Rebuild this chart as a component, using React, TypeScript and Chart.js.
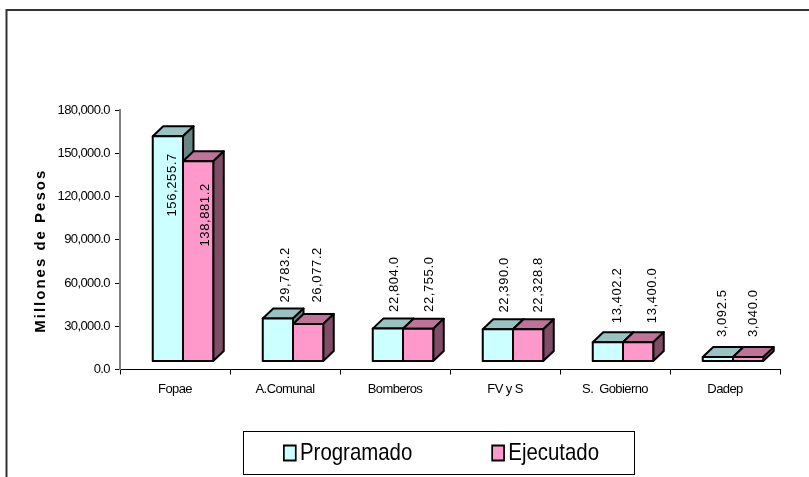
import React, { useEffect, useRef } from "react";
import { Chart, registerables } from "chart.js";

Chart.register(...registerables);

const categories = ["Fopae", "A.Comunal", "Bomberos", "FV y S", "S.  Gobierno", "Dadep"];
const programado = [156255.7, 29783.2, 22804.0, 22390.0, 13402.2, 3092.5];
const ejecutado = [138881.2, 26077.2, 22755.0, 22328.8, 13400.0, 3040.0];
const seriesNames = ["Programado", "Ejecutado"];
const frontColors = ["#CCFFFF", "#FF99CC"];
const topColors = ["#99C3C3", "#BF7399"];
const sideColors = ["#688585", "#804D66"];
const yTitle = "Millones de Pesos";

// layout constants for the hand-placed value labels
const labelDx = [
  [13, 16, 15, 15, 18, 13],
  [15, 17, 19, 18, 22, 13],
];
const labelGap = [24, 24, 24.7, 24.7, 27, 28];

const SANS = "'Liberation Sans', Arial, sans-serif";
const DX = 10.5;
const DY = 10;
const SHIFT_X = 8;
const SHIFT_Y = -8;
const LEGEND_SX = 0.85;
const SWATCH_SHIFT = 7;
const fmt = (v: number) =>
  v.toLocaleString("en-US", { minimumFractionDigits: 1, maximumFractionDigits: 1 });

const threeD = {
  id: "threeD",
  beforeDatasetDraw() {
    return false;
  },
  afterDatasetsDraw(chart: any) {
    const ctx = chart.ctx;
    [0, 1].forEach((i) => {
      const meta = chart.getDatasetMeta(i);
      ctx.save();
      ctx.translate(SHIFT_X, SHIFT_Y);
      ctx.lineWidth = 2;
      ctx.lineJoin = "round";
      ctx.strokeStyle = "#000";
      meta.data.forEach((el: any) => {
        const l = el.x - el.width / 2;
        const r = el.x + el.width / 2;
        const t = el.y;
        const b = el.base;
        ctx.beginPath();
        ctx.moveTo(l, t);
        ctx.lineTo(l + DX, t - DY);
        ctx.lineTo(r + DX, t - DY);
        ctx.lineTo(r, t);
        ctx.closePath();
        ctx.fillStyle = topColors[i];
        ctx.fill();
        ctx.stroke();
        ctx.beginPath();
        ctx.moveTo(r, t);
        ctx.lineTo(r + DX, t - DY);
        ctx.lineTo(r + DX, b - DY);
        ctx.lineTo(r, b);
        ctx.closePath();
        ctx.fillStyle = sideColors[i];
        ctx.fill();
        ctx.stroke();
        el.draw(ctx);
        ctx.lineWidth = 2;
        ctx.strokeStyle = "#000";
        ctx.strokeRect(l, t, r - l, b - t);
      });
      ctx.restore();
    });
    // value labels
    const yScale = chart.scales.y;
    [0, 1].forEach((i) => {
      const meta = chart.getDatasetMeta(i);
      const values = chart.data.datasets[i].data;
      meta.data.forEach((el: any, k: number) => {
        const v = values[k];
        const tall = v > 100000;
        const groupTop = yScale.getPixelForValue(Math.max(programado[k], ejecutado[k]));
        const cx = el.x + labelDx[i][k];
        const anchor = tall ? el.y + (i === 0 ? 9 : 14) : groupTop - labelGap[k];
        ctx.save();
        ctx.translate(cx, anchor);
        ctx.rotate(-Math.PI / 2);
        ctx.font = `13px ${SANS}`;
        (ctx as any).letterSpacing = "0.6px";
        ctx.fillStyle = "#000";
        ctx.textBaseline = "middle";
        ctx.textAlign = tall ? "right" : "left";
        ctx.fillText(fmt(v), 0, 0);
        ctx.restore();
      });
    });
  },
  beforeDraw(chart: any) {
    const ctx = chart.ctx;
    ctx.save();
    ctx.strokeStyle = "#333";
    ctx.lineWidth = 2;
    ctx.beginPath();
    ctx.moveTo(6.5, 477);
    ctx.lineTo(6.5, 10);
    ctx.lineTo(809, 10);
    ctx.stroke();
    ctx.restore();

    const lg = chart.legend;
    const pad = lg.options.labels.padding;
    lg.left = 39.9 + SWATCH_SHIFT - pad;
    lg.right = 1000;
    lg.top = 441 - pad;
    lg.bottom = 477;
    if (!lg._squeezed) {
      lg._squeezed = true;
      const drawLegend = lg.draw;
      lg.draw = function () {
        const c = this.ctx;
        const fillText = c.fillText;
        c.save();
        c.translate(244, 0);
        c.scale(LEGEND_SX, 1);
        // tighten the swatch-to-text gap, which the legend ties to its font size
        c.fillText = (t: string, x: number, y: number, w?: number) =>
          w === undefined ? fillText.call(c, t, x - SWATCH_SHIFT, y) : fillText.call(c, t, x - SWATCH_SHIFT, y, w);
        drawLegend.call(this);
        delete c.fillText;
        c.restore();
      };
    }
    const y = chart.scales.y;
    const x = chart.scales.x;
    if (!y._spaced) {
      y._spaced = true;
      const drawTitle = y.drawTitle;
      y.drawTitle = function () {
        const c = this.ctx;
        c.save();
        c.letterSpacing = "2px";
        c.translate(0, 11);
        drawTitle.call(this);
        c.restore();
      };
      [x, y].forEach((s: any) => {
        const drawLabels = s.drawLabels;
        s.drawLabels = function (area: any) {
          const c = this.ctx;
          c.save();
          c.letterSpacing = "-0.6px";
          drawLabels.call(this, area);
          c.restore();
        };
      });
    }
  },
  afterDraw(chart: any) {
    const ctx = chart.ctx;
    ctx.save();
    ctx.strokeStyle = "#000";
    ctx.lineWidth = 1;
    ctx.strokeRect(243.5, 431.5, 391, 43);
    ctx.restore();
  },
};

export default function App() {
  const ref = useRef<HTMLCanvasElement>(null);
  useEffect(() => {
    const chart = new Chart(ref.current!, {
      type: "bar",
      data: {
        labels: categories,
        datasets: [
          { label: seriesNames[0], data: programado, backgroundColor: frontColors[0], borderWidth: 0 },
          { label: seriesNames[1], data: ejecutado, backgroundColor: frontColors[1], borderWidth: 0 },
        ],
      },
      options: {
        animation: false,
        responsive: false,
        layout: { padding: { top: 110, left: 32, right: 29, bottom: 0 } },
        datasets: { bar: { categoryPercentage: 0.55, barPercentage: 1 } },
        plugins: {
          title: { display: false },
          tooltip: { enabled: false },
          legend: {
            position: "bottom",
            align: "start",
            maxHeight: 44,
            labels: {
              boxWidth: 14,
              boxHeight: 15,
              padding: 87,
              color: "#000",
              font: { family: SANS, size: 24 },
              generateLabels: (chart: any) =>
                Chart.defaults.plugins.legend.labels.generateLabels(chart).map((item: any) => ({
                  ...item,
                  lineWidth: 2,
                  strokeStyle: "#000",
                })),
            },
          },
        },
        scales: {
          x: {
            afterFit: (s: any) => {
              s.height = 63.5;
            },
            grid: { drawOnChartArea: false, color: "#000", tickLength: 5 },
            border: { color: "#000", width: 1 },
            ticks: { color: "#000", font: { family: SANS, size: 13 }, padding: 7, maxRotation: 0, autoSkip: false },
          },
          y: {
            min: 0,
            max: 180000,
            afterFit: (s: any) => {
              s.width = 88;
            },
            border: { color: "#808080", width: 2 },
            grid: { drawOnChartArea: false, color: "#000", tickLength: 5 },
            ticks: { stepSize: 30000, color: "#000", padding: 5, font: { family: SANS, size: 13 }, callback: (v: any) => fmt(Number(v)) },
            title: {
              display: true,
              text: yTitle,
              color: "#000",
              padding: 0,
              font: { family: SANS, size: 15, weight: "bold" },
            },
          },
        },
      },
      plugins: [threeD as any],
    });
    return () => chart.destroy();
  }, []);
  return <canvas ref={ref} width={809} height={477} style={{ position: "fixed", left: 0, top: 0, display: "block" }} />;
}
